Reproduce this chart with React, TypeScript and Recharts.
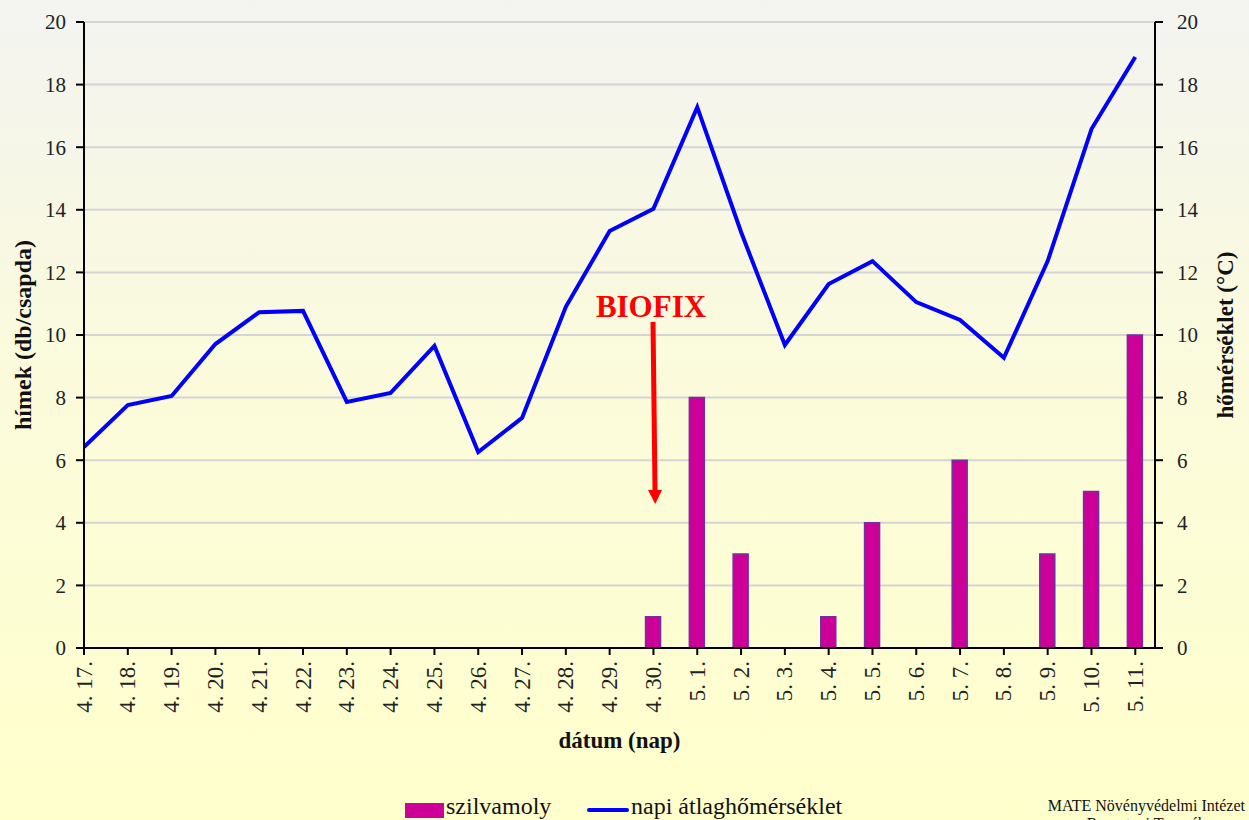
import {
  ComposedChart,
  Bar,
  Line,
  XAxis,
  YAxis,
  CartesianGrid,
  Legend,
  ReferenceLine,
} from "recharts";

const dates = [
  "4. 17.", "4. 18.", "4. 19.", "4. 20.", "4. 21.", "4. 22.", "4. 23.",
  "4. 24.", "4. 25.", "4. 26.", "4. 27.", "4. 28.", "4. 29.", "4. 30.",
  "5. 1.", "5. 2.", "5. 3.", "5. 4.", "5. 5.", "5. 6.", "5. 7.", "5. 8.",
  "5. 9.", "5. 10.", "5. 11.",
];

// szilvamoly hímek (db/csapda)
const moths = [0, 0, 0, 0, 0, 0, 0, 0, 0, 0, 0, 0, 0, 1, 8, 3, 0, 1, 4, 0, 6, 0, 3, 5, 10];

// napi átlaghőmérséklet (°C)
const temps = [
  6.42, 7.76, 8.05, 9.71, 10.73, 10.77, 7.86, 8.15, 9.65, 6.26, 7.35, 10.9,
  13.32, 14.03, 17.28, 13.29, 9.68, 11.63, 12.36, 11.05, 10.48, 9.27, 12.36,
  16.58, 18.88,
];

const yTicks = [0, 2, 4, 6, 8, 10, 12, 14, 16, 18, 20];

const data = dates.map((d, i) => ({
  i,
  date: d,
  szilvamoly: moths[i],
  temp: temps[i],
}));

const FONT = "Liberation Serif, Times New Roman, serif";

const DateTick = (props: any) => {
  const { x, y, payload } = props;
  return (
    <text
      x={x}
      y={y + 4}
      transform={`rotate(-90, ${x}, ${y + 4})`}
      textAnchor="end"
      dominantBaseline="central"
      fontFamily={FONT}
      fontSize={23}
      fill="#222"
    >
      {dates[payload.value]}
    </text>
  );
};

const BiofixArrow = (props: any) => {
  const { x1, y1, x2, y2 } = props;
  const head = 14;
  const ang = Math.atan2(y2 - y1, x2 - x1);
  const bx = x2 - head * Math.cos(ang);
  const by = y2 - head * Math.sin(ang);
  const px = 7 * Math.sin(ang);
  const py = -7 * Math.cos(ang);
  return (
    <g>
      <text
        x={x1 - 2}
        y={y1 - 5}
        textAnchor="middle"
        fontFamily={FONT}
        fontWeight="bold"
        fontSize={31}
        fill="#ff0000"
      >
        BIOFIX
      </text>
      <line x1={x1} y1={y1} x2={bx} y2={by} stroke="#ff0000" strokeWidth={5} />
      <polygon
        points={`${x2},${y2} ${bx + px},${by + py} ${bx - px},${by - py}`}
        fill="#ff0000"
      />
    </g>
  );
};

const LegendContent = () => (
  <div style={{ position: "relative", width: 1249, height: 30, fontFamily: FONT }}>
    <div
      style={{
        position: "absolute",
        left: 405,
        top: 13,
        width: 37,
        height: 13,
        background: "#cc0099",
        border: "1px solid #7030a0",
      }}
    />
    <span style={{ position: "absolute", left: 446, top: 3, fontSize: 24, color: "#111" }}>
      szilvamoly
    </span>
    <div
      style={{
        position: "absolute",
        left: 587,
        top: 18,
        width: 42,
        height: 4,
        background: "#0000ff",
        borderRadius: 2,
      }}
    />
    <span style={{ position: "absolute", left: 631, top: 3, fontSize: 24, color: "#111" }}>
      napi átlaghőmérséklet
    </span>
    <span
      style={{
        position: "absolute",
        right: 4,
        top: 7,
        fontSize: 16,
        color: "#111",
        textAlign: "center",
        lineHeight: "18px",
        whiteSpace: "nowrap",
      }}
    >
      MATE Növényvédelmi Intézet
      <br />
      Rovartani Tanszék
    </span>
  </div>
);

export default function App() {
  return (
    <div
      style={{
        position: "absolute",
        left: 0,
        top: 0,
        width: 1249,
        height: 820,
        overflow: "hidden",
        background: "linear-gradient(to bottom, #f3f3f1 0%, #fbfbdc 45%, #ffffcc 100%)",
      }}
    >
      <ComposedChart
        width={1249}
        height={820}
        data={data}
        margin={{ top: 22, right: 0, bottom: 0, left: 0 }}
      >
        <CartesianGrid vertical={false} stroke="#d4d4d4" strokeWidth={2} yAxisId="left" />
        <XAxis
          type="number"
          dataKey="i"
          domain={[0, 24.45]}
          allowDataOverflow
          ticks={dates.map((_, i) => i)}
          interval={0}
          height={142}
          stroke="#000"
          strokeWidth={2}
          tickSize={7}
          tick={<DateTick />}
          label={{
            value: "dátum (nap)",
            position: "insideBottom",
            offset: 42,
            style: { fontFamily: FONT, fontWeight: "bold", fontSize: 23, fill: "#111" },
          }}
        />
        <YAxis
          yAxisId="left"
          orientation="left"
          domain={[0, 20]}
          ticks={yTicks}
          interval={0}
          width={84}
          stroke="#000"
          strokeWidth={2}
          tickSize={8}
          tickMargin={10}
          tick={{ fontFamily: FONT, fontSize: 21, fill: "#222" }}
          label={{
            value: "hímek  (db/csapda)",
            angle: -90,
            position: "center",
            dx: -20,
            style: {
              fontFamily: FONT,
              fontWeight: "bold",
              fontSize: 24,
              fill: "#111",
              whiteSpace: "pre",
            },
          }}
        />
        <YAxis
          yAxisId="right"
          orientation="right"
          domain={[0, 20]}
          ticks={yTicks}
          interval={0}
          width={94}
          stroke="#000"
          strokeWidth={2}
          tickSize={8}
          tickMargin={14}
          tick={{ fontFamily: FONT, fontSize: 21, fill: "#222" }}
          label={{
            value: "hőmérséklet (°C)",
            angle: -90,
            position: "center",
            dx: 23,
            style: { fontFamily: FONT, fontWeight: "bold", fontSize: 23, fill: "#111" },
          }}
        />
        <Bar
          yAxisId="left"
          dataKey="szilvamoly"
          name="szilvamoly"
          barSize={15}
          fill="#cc0099"
          stroke="#7030a0"
          strokeWidth={1.5}
          isAnimationActive={false}
        />
        <Line
          yAxisId="right"
          type="linear"
          dataKey="temp"
          name="napi átlaghőmérséklet"
          stroke="#0000ff"
          strokeWidth={4}
          dot={false}
          activeDot={false}
          isAnimationActive={false}
        />
        <ReferenceLine
          yAxisId="right"
          segment={[
            { x: 12.99, y: 10.42 },
            { x: 13.04, y: 4.6 },
          ]}
          shape={<BiofixArrow />}
          ifOverflow="visible"
        />
        <Legend verticalAlign="bottom" content={<LegendContent />} />
      </ComposedChart>
    </div>
  );
}
